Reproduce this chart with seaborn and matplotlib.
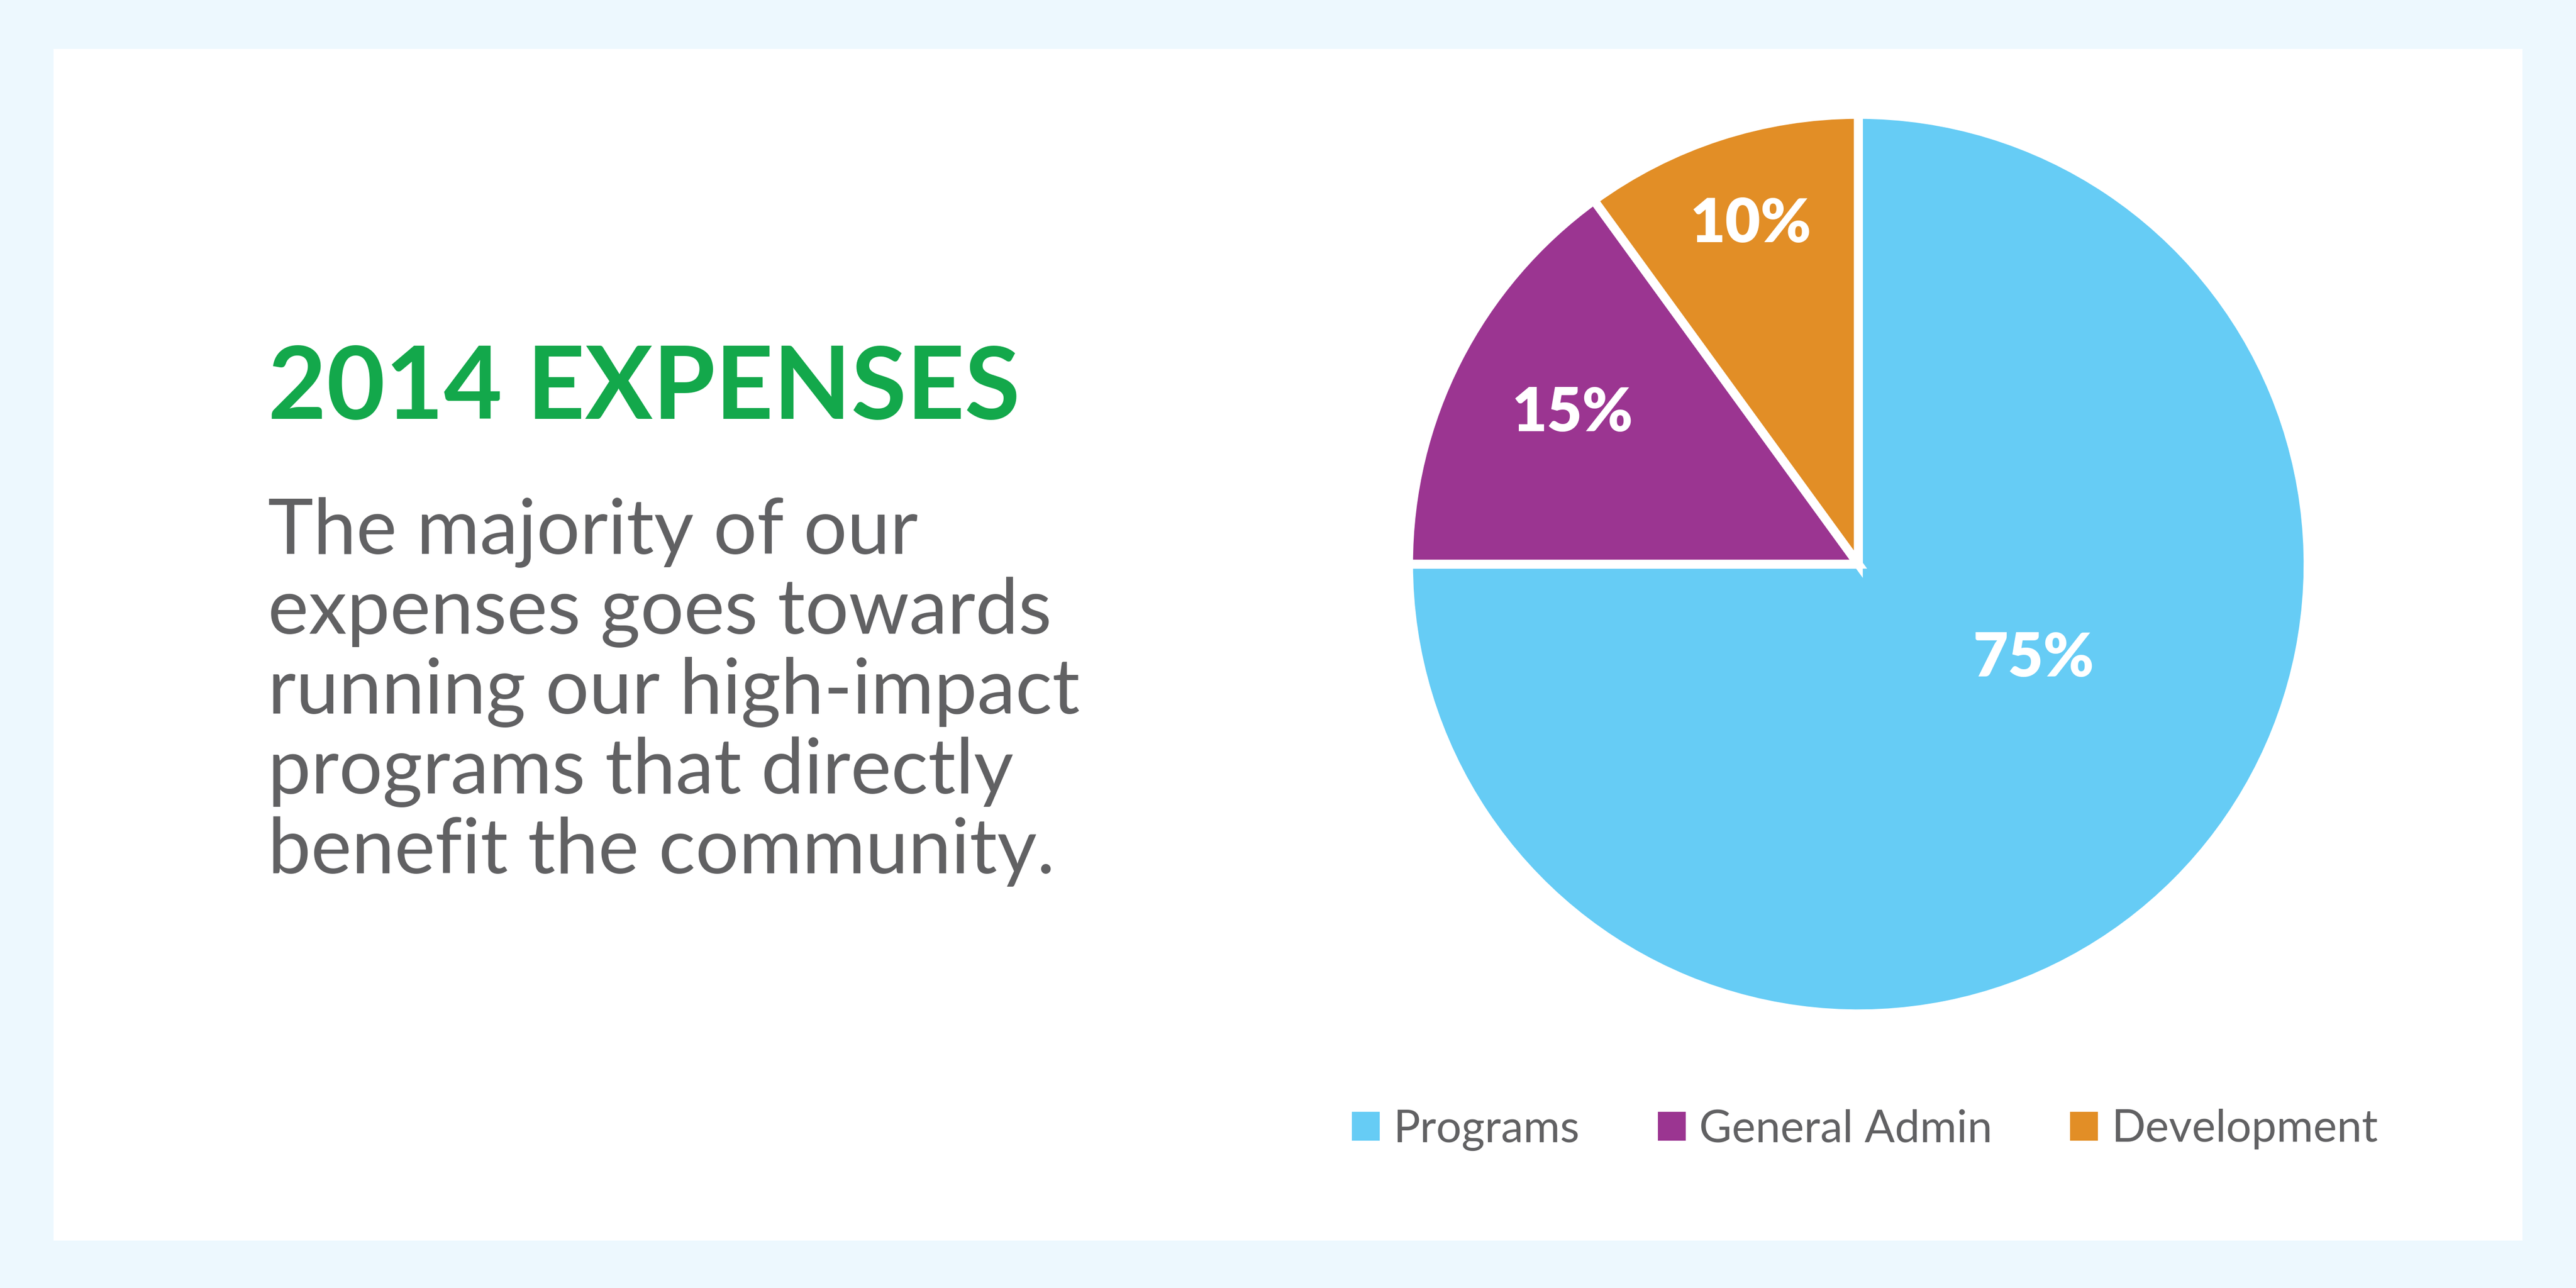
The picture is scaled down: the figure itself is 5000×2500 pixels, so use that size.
import matplotlib
matplotlib.use("Agg")
import matplotlib.pyplot as plt
from matplotlib.patches import Rectangle
import seaborn as sns
import numpy as np

# data
categories = ["Programs", "General Admin", "Development"]
shares = [75, 15, 10]
pct_labels = ["75%", "15%", "10%"]
palette = ["#66CCF5", "#9B3591", "#E28E26"]

title = "2014 EXPENSES"
body_lines = [
    "The majority of our",
    "expenses goes towards",
    "running our high-impact",
    "programs that directly",
    "benefit the community.",
]

sns.set_theme(style="white")
plt.rcParams["font.family"] = ["Lato", "DejaVu Sans"]

W, H, DPI = 5000, 2500, 250
fig = plt.figure(figsize=(W / DPI, H / DPI), dpi=DPI, facecolor="#EDF8FE")

# white card behind everything
fig.patches.append(Rectangle((104 / W, 92 / H), (4896 - 104) / W, (2408 - 95) / H,
                             transform=fig.transFigure, facecolor="white",
                             edgecolor="none", zorder=-5))

# left text block
fig.text(520 / W, 1 - 813 / H, title, color="#13A84B", fontsize=56.5,
         fontweight="bold", ha="left", va="baseline")
for i, line in enumerate(body_lines):
    fig.text(520 / W, 1 - (1075 + i * 155) / H, line, color="#616163",
             fontsize=43, fontweight="normal", ha="left", va="baseline")

# pie
cx, cy, r = 3607, 1095, 873
ax = fig.add_axes([(cx - r) / W, (H - cy - r) / H, 2 * r / W, 2 * r / H])
wedges, _ = ax.pie(shares, colors=sns.color_palette(palette), startangle=90,
                   counterclock=False,
                   wedgeprops=dict(edgecolor="white", linewidth=5))
ax.set_xlim(-1, 1)
ax.set_ylim(-1, 1)
ax.set_aspect("equal")
ax.axis("off")

label_pos = [(0.39, -0.21), (-0.636, 0.335), (-0.24, 0.756)]
for txt, (x, y) in zip(pct_labels, label_pos):
    ax.text(x, y, txt, color="white", fontsize=34, fontweight="heavy",
            ha="center", va="center")

leg = fig.legend(wedges, categories, loc="center", ncol=3,
                 bbox_to_anchor=(3620 / W, 1 - 2193 / H), frameon=False,
                 handlelength=0.62, handleheight=0.62, handletextpad=0.3,
                 columnspacing=1.75, fontsize=25, labelcolor="#616163")
for h in leg.legend_handles:
    h.set_linewidth(0)

fig.savefig("out.png", dpi=DPI, facecolor=fig.get_facecolor())
